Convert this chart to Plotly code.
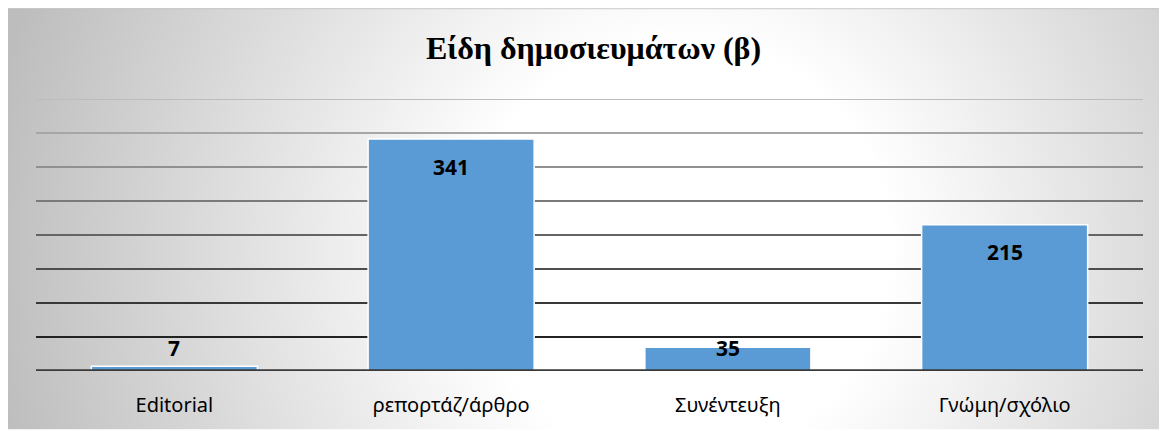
import base64
import plotly.graph_objects as go

categories = ["Editorial", "ρεπορτάζ/άρθρο", "Συνέντευξη", "Γνώμη/σχόλιο"]
values = [7, 341, 35, 215]
grid_values = [50, 100, 150, 200, 250, 300, 350, 400]
title_text = "Είδη δημοσιευμάτων (β)"

# page body has an 8px margin, so the figure is laid out 8px up/left
OFF = 8
W, H = 1167 - OFF, 431 - OFF
L = 36 - OFF
R = W - (1143 - OFF)
T = 99 - OFF
B = H - (371.5 - OFF)
plot_w = W - L - R
plot_h = H - T - B

# background radial gradient (chart area page x=6..1167, y=8..430)
bx0, by0, bx1, by1 = 0, 0, W, 430 - OFF
bw, bh = bx1 - bx0, by1 - by0
cx, cy = 680 - OFF, 250 - OFF
svg = f'''<svg xmlns="http://www.w3.org/2000/svg" width="{bw}" height="{bh}" viewBox="0 0 {bw} {bh}" preserveAspectRatio="none">
<defs><radialGradient id="g" gradientUnits="userSpaceOnUse" cx="{cx}" cy="{cy}" r="700">
<stop offset="0" stop-color="#ffffff"/><stop offset="0.3" stop-color="#ffffff"/>
<stop offset="1" stop-color="#bdbdbd"/></radialGradient></defs>
<rect x="0" y="0" width="{bw}" height="{bh}" fill="url(#g)"/>
<line x1="0" y1="0.5" x2="{bw}" y2="0.5" stroke="#bdbdbd" stroke-width="1"/>
</svg>'''
src = "data:image/svg+xml;base64," + base64.b64encode(svg.encode()).decode()

fig = go.Figure()
fig.add_trace(go.Bar(
    x=categories, y=values,
    marker=dict(color="#5B9BD5", line=dict(color="#ffffff", width=1.5)),
    hoverinfo="skip",
))

fig.add_layout_image(dict(
    source=src, xref="paper", yref="paper",
    x=(bx0 - L) / plot_w, y=1 + (T - by0) / plot_h,
    sizex=bw / plot_w, sizey=bh / plot_h,
    xanchor="left", yanchor="top", sizing="stretch", layer="below",
))

def lerp(a, b, t):
    return int(round(a + (b - a) * t))

for gv in grid_values:
    t = (gv - min(grid_values)) / (max(grid_values) - min(grid_values))
    c = lerp(0x22, 0xbc, t)
    fig.add_shape(type="line", xref="paper", yref="y", x0=0, x1=1, y0=gv, y1=gv,
                  line=dict(color=f"rgb({c},{c},{c})", width=2), layer="below")
fig.add_shape(type="line", xref="paper", yref="y", x0=0, x1=1, y0=0, y1=0,
              line=dict(color="#3a3a3a", width=3.5), layer="above")

for cat, v in zip(categories, values):
    ly = max(v - 40.5, 34.5)
    fig.add_annotation(x=cat, y=ly, text=f"<b>{v}</b>", showarrow=False,
                       xref="x", yref="y", yanchor="middle",
                       font=dict(family="Noto Sans", size=21, color="#000000"))

fig.update_layout(
    width=W, height=H,
    margin=dict(l=L, r=R, t=T, b=B, pad=0),
    paper_bgcolor="#ffffff", plot_bgcolor="rgba(0,0,0,0)",
    bargap=0.40,
    showlegend=False,
    title=dict(text=f"<b>{title_text}</b>", xref="container", yref="container",
               x=(593.5 - OFF) / W, y=1 - (48 - OFF) / H, xanchor="center", yanchor="middle",
               font=dict(family="Liberation Serif", size=32, color="#000000")),
    xaxis=dict(showgrid=False, zeroline=False, showline=False, ticks="",
               ticklabelstandoff=20,
               tickfont=dict(family="Noto Sans", size=20, color="#000000")),
    yaxis=dict(range=[0, 400], showgrid=False, zeroline=False, showline=False,
               showticklabels=False, ticks=""),
)

fig.write_html("out.html")
